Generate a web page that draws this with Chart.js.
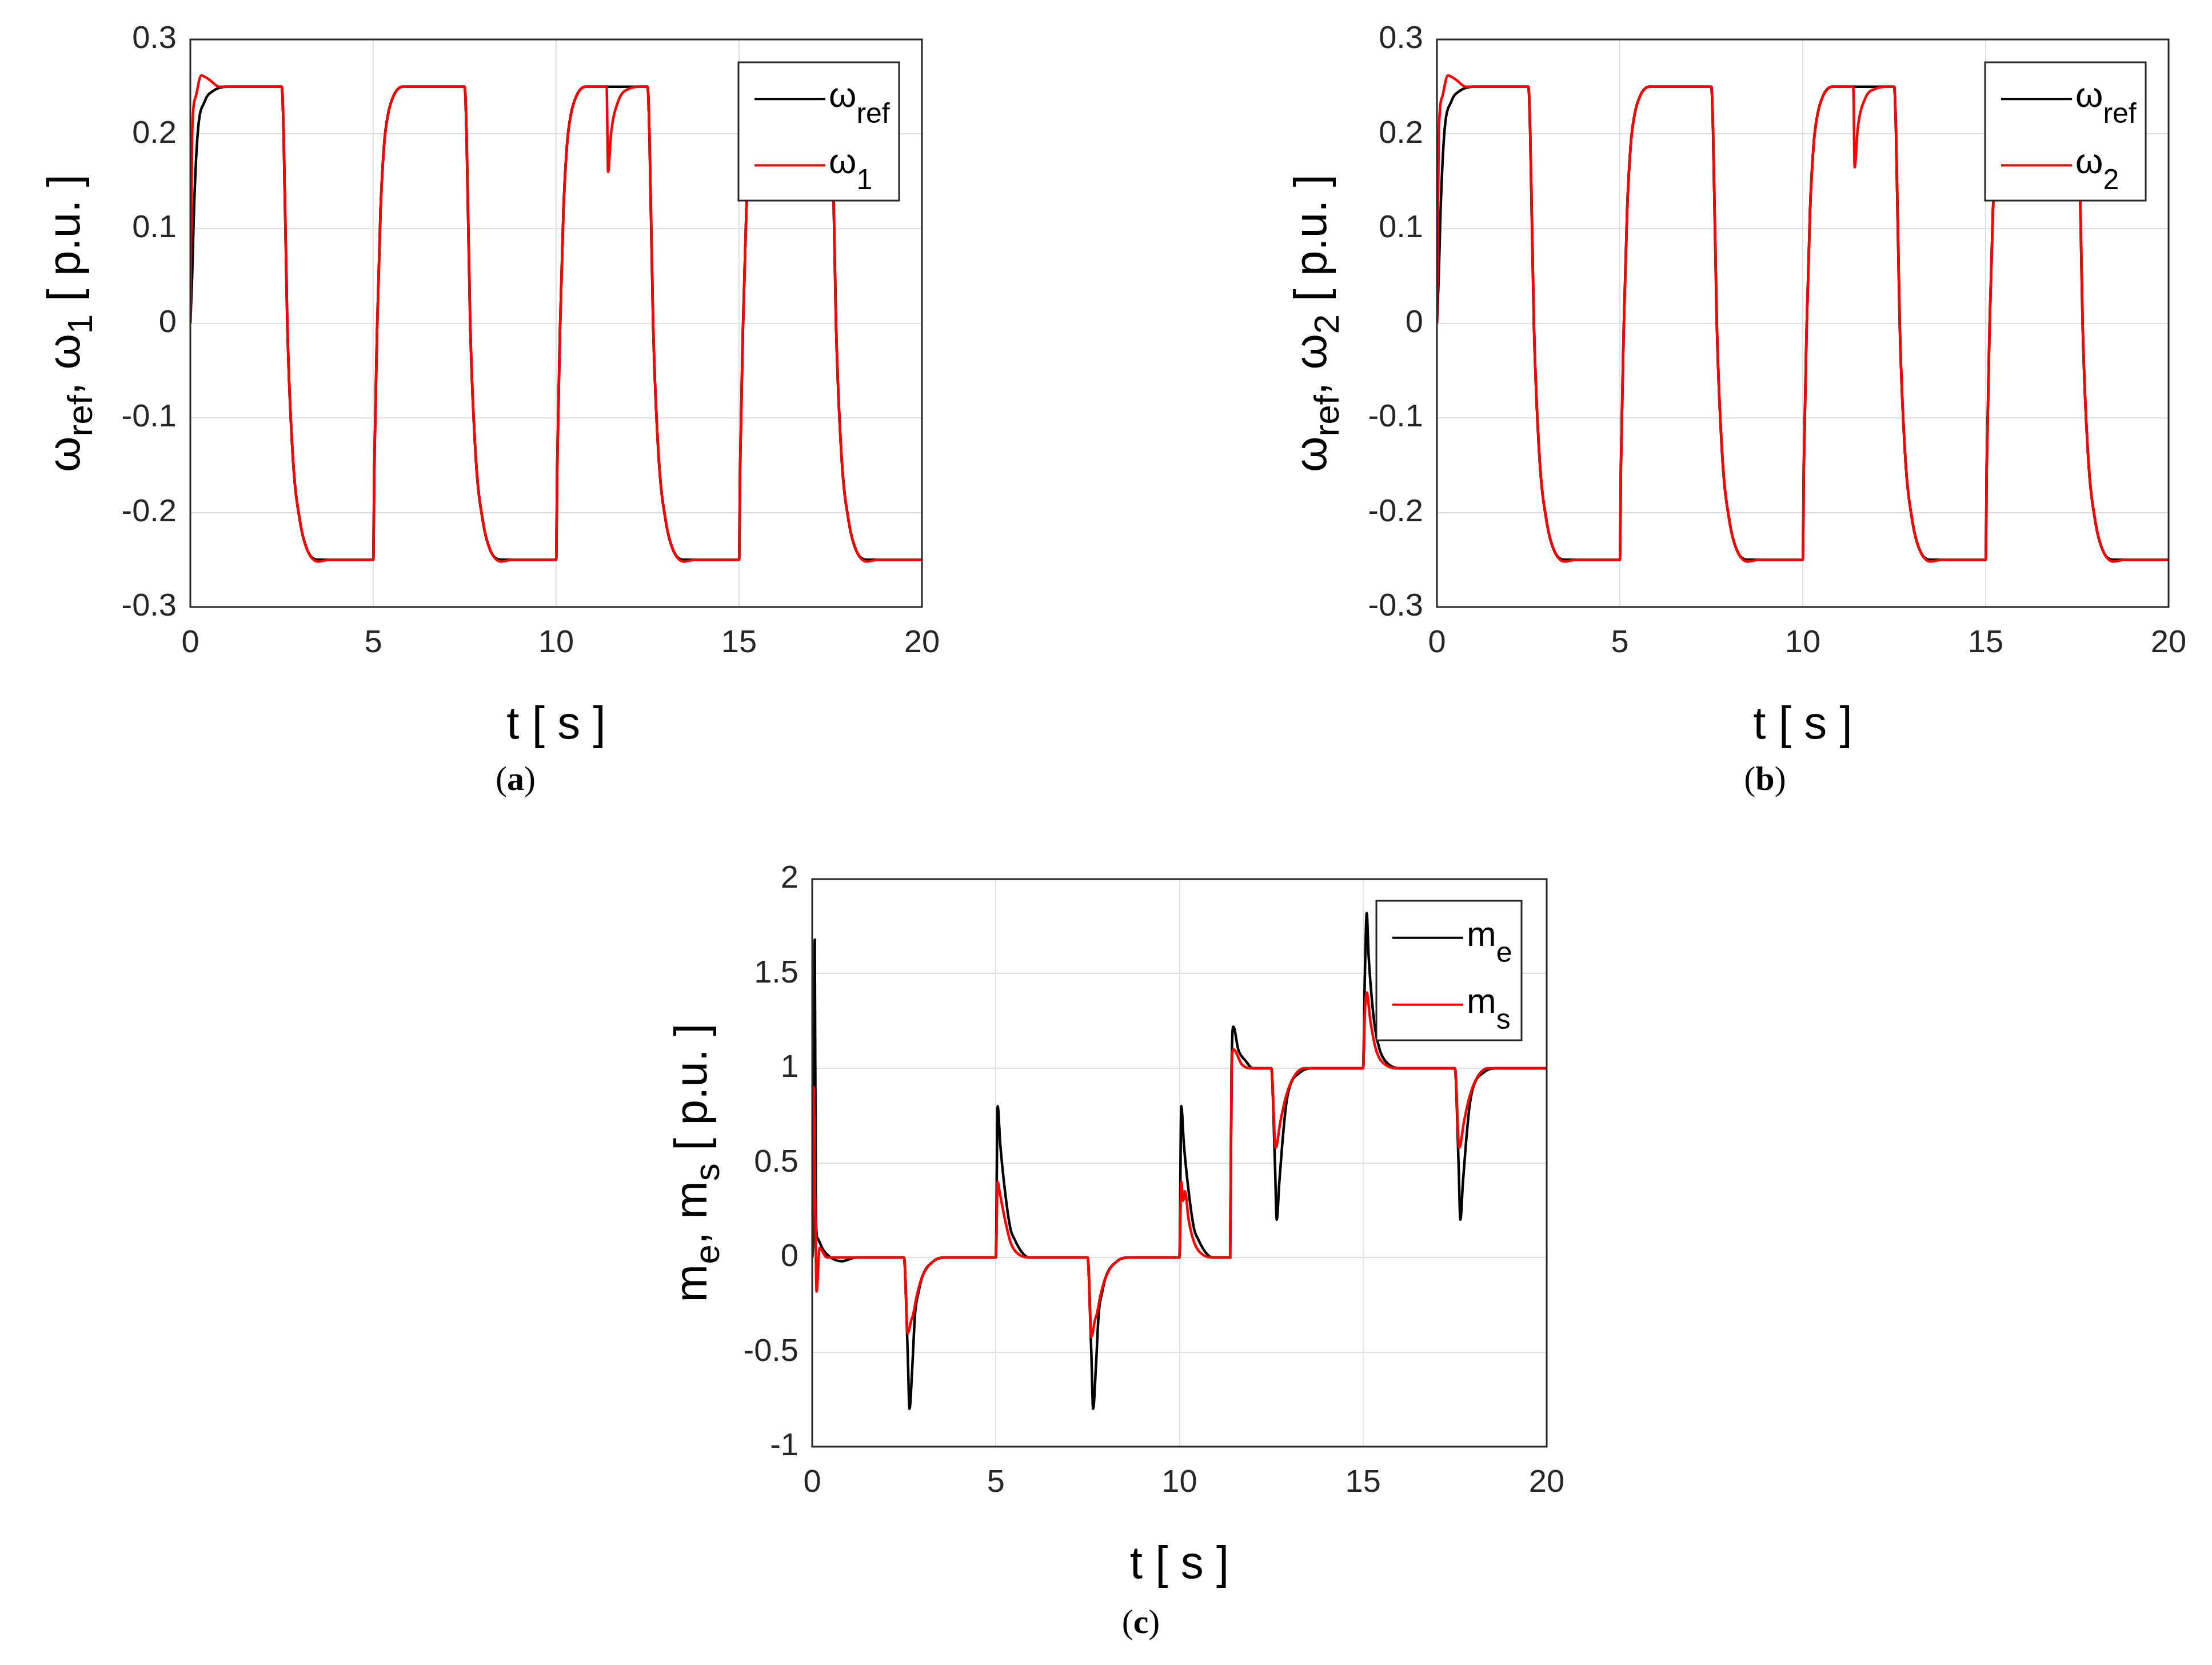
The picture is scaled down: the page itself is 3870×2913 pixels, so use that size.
<!DOCTYPE html>
<html>
<head>
<meta charset="utf-8">
<script src="https://cdn.jsdelivr.net/npm/chart.js@4.4.1/dist/chart.umd.min.js"></script>
<style>
  body { margin: 0; background: #fff; width: 3870px; height: 2913px; position: relative; overflow: hidden; }
  .box { position: absolute; width: 1700px; height: 1322px; }
  .cap { position: absolute; font-family: "Liberation Serif", serif; font-size: 60px; color: #000; transform: translateX(-50%); }
</style>
</head>
<body>
<div class="box" style="left:0px;top:0px"><canvas id="chartA"></canvas></div>
<div class="box" style="left:2181px;top:0px"><canvas id="chartB"></canvas></div>
<div class="box" style="left:1088px;top:1469px"><canvas id="chartC"></canvas></div>
<div class="cap" style="left:902px;top:1328px">(<b>a</b>)</div>
<div class="cap" style="left:3088px;top:1328px">(<b>b</b>)</div>
<div class="cap" style="left:1996px;top:2803px">(<b>c</b>)</div>
<script>
// ---- data ----
var tRef = [0,0.05,0.1,0.2,0.4,0.6,1.0,
  2.5,2.55,2.65,2.8,3.0,3.2,3.5,
  5.0,5.03,5.11,5.2,5.3,5.4,5.55,5.8,
  7.5,7.55,7.65,7.8,8.0,8.2,8.5,
  10.0,10.03,10.11,10.2,10.3,10.4,10.55,10.8,
  12.5,12.55,12.65,12.8,13.0,13.2,13.5,
  15.0,15.03,15.11,15.2,15.3,15.4,15.55,15.8,
  17.5,17.55,17.65,17.8,18.0,18.2,18.5,20];
var wRef = [0,0.05,0.12,0.2,0.235,0.245,0.25,
  0.25,0.2,0,-0.14,-0.21,-0.24,-0.25,
  -0.25,-0.15,0,0.12,0.19,0.22,0.24,0.25,
  0.25,0.2,0,-0.14,-0.21,-0.24,-0.25,
  -0.25,-0.15,0,0.12,0.19,0.22,0.24,0.25,
  0.25,0.2,0,-0.14,-0.21,-0.24,-0.25,
  -0.25,-0.15,0,0.12,0.19,0.22,0.24,0.25,
  0.25,0.2,0,-0.14,-0.21,-0.24,-0.25,-0.25];

var tW = [0,0.05,0.15,0.3,0.5,0.8,
  2.5,2.55,2.65,2.8,3.0,3.2,3.5,3.8,
  5.0,5.03,5.11,5.2,5.3,5.4,5.55,5.8,
  7.5,7.55,7.65,7.8,8.0,8.2,8.5,8.8,
  10.0,10.03,10.11,10.2,10.3,10.4,10.55,10.8,
  11.38,11.42,11.5,11.7,12.0,12.3,
  12.5,12.55,12.65,12.8,13.0,13.2,13.5,13.8,
  15.0,15.03,15.11,15.2,15.3,15.4,15.55,15.8,
  17.5,17.55,17.65,17.8,18.0,18.2,18.5,18.8,20];
var w1 = [0,0.2,0.24,0.262,0.258,0.25,
  0.25,0.2,0,-0.14,-0.21,-0.24,-0.252,-0.25,
  -0.25,-0.15,0,0.12,0.19,0.22,0.24,0.25,
  0.25,0.2,0,-0.14,-0.21,-0.24,-0.252,-0.25,
  -0.25,-0.15,0,0.12,0.19,0.22,0.24,0.25,
  0.25,0.16,0.2,0.235,0.248,0.25,
  0.25,0.2,0,-0.14,-0.21,-0.24,-0.252,-0.25,
  -0.25,-0.15,0,0.12,0.19,0.22,0.24,0.25,
  0.25,0.2,0,-0.14,-0.21,-0.24,-0.252,-0.25,-0.25];
var w2 = [0,0.2,0.24,0.262,0.258,0.25,
  0.25,0.2,0,-0.14,-0.21,-0.24,-0.252,-0.25,
  -0.25,-0.15,0,0.12,0.19,0.22,0.24,0.25,
  0.25,0.2,0,-0.14,-0.21,-0.24,-0.252,-0.25,
  -0.25,-0.15,0,0.12,0.19,0.22,0.24,0.25,
  0.25,0.165,0.205,0.237,0.248,0.25,
  0.25,0.2,0,-0.14,-0.21,-0.24,-0.252,-0.25,
  -0.25,-0.15,0,0.12,0.19,0.22,0.24,0.25,
  0.25,0.2,0,-0.14,-0.21,-0.24,-0.252,-0.25,-0.25];

var tMe = [0,0.04,0.07,0.1,0.15,0.3,0.5,0.8,1.2,
  2.5,2.6,2.65,2.72,2.8,2.9,3.0,3.3,3.6,
  5.0,5.05,5.12,5.25,5.4,5.5,5.7,5.9,
  7.5,7.6,7.65,7.72,7.8,7.9,8.0,8.3,8.6,
  10.0,10.05,10.12,10.25,10.4,10.5,10.7,10.9,
  11.38,11.42,11.47,11.6,11.8,12.0,12.4,
  12.5,12.6,12.65,12.72,12.8,12.9,13.0,13.3,13.6,
  15.0,15.05,15.1,15.15,15.3,15.45,15.6,16.0,
  17.5,17.6,17.65,17.72,17.8,17.9,18.0,18.3,18.6,20];
var me = [0,0.2,1.68,0.2,0.1,0.04,0,-0.02,0,
  0,-0.5,-0.8,-0.6,-0.3,-0.18,-0.1,-0.02,0,
  0,0.8,0.6,0.35,0.15,0.1,0.03,0,
  0,-0.5,-0.8,-0.6,-0.3,-0.18,-0.1,-0.02,0,
  0,0.8,0.6,0.35,0.15,0.1,0.03,0,
  0,1.0,1.22,1.1,1.04,1.0,1.0,
  1.0,0.5,0.2,0.4,0.6,0.8,0.9,0.98,1.0,
  1.0,1.5,1.82,1.6,1.25,1.1,1.04,1.0,
  1.0,0.5,0.2,0.4,0.6,0.8,0.9,0.98,1.0,1.0];
var tMs = [0,0.04,0.08,0.12,0.2,0.4,
  2.5,2.6,2.7,2.75,2.85,3.0,3.3,3.6,
  5.0,5.05,5.1,5.25,5.4,5.6,5.9,
  7.5,7.6,7.7,7.75,7.85,8.0,8.3,8.6,
  10.0,10.05,10.1,10.15,10.25,10.4,10.6,10.9,
  11.38,11.42,11.47,11.7,12.0,12.4,
  12.5,12.62,12.75,12.9,13.1,13.4,
  15.0,15.05,15.1,15.2,15.35,15.6,16.0,
  17.5,17.62,17.75,17.9,18.1,18.4,20];
var ms = [0,0.9,0.3,-0.18,0.05,0,
  0,-0.4,-0.33,-0.3,-0.2,-0.1,-0.02,0,
  0,0.4,0.35,0.2,0.08,0.02,0,
  0,-0.42,-0.33,-0.3,-0.2,-0.1,-0.02,0,
  0,0.4,0.3,0.35,0.2,0.08,0.02,0,
  0,1.0,1.1,1.02,1.0,1.0,
  1.0,0.58,0.72,0.85,0.95,1.0,
  1.0,1.3,1.4,1.25,1.1,1.02,1.0,
  1.0,0.58,0.72,0.85,0.95,1.0,1.0];

var xTicks = [0, 5, 10, 15, 20];
var yTicksW = [-0.3, -0.2, -0.1, 0, 0.1, 0.2, 0.3];
var yTicksM = [-1, -0.5, 0, 0.5, 1, 1.5, 2];

function pts(t, v) {
  return t.map(function (x, i) { return { x: x, y: v[i] }; });
}

// text with subscripts: parts = [[text, isSub], ...]
function richWidth(ctx, parts, big, small) {
  var w = 0;
  parts.forEach(function (p) {
    ctx.font = (p[1] ? small : big) + "px Arial, 'Liberation Sans'";
    w += ctx.measureText(p[0]).width;
  });
  return w;
}
function drawRich(ctx, parts, x, y, big, small, sub) {
  parts.forEach(function (p) {
    ctx.font = (p[1] ? small : big) + "px Arial, 'Liberation Sans'";
    ctx.fillText(p[0], x, y + (p[1] ? sub : 0));
    x += ctx.measureText(p[0]).width;
  });
}

var matlabDeco = {
  id: 'matlabDeco',
  afterDraw: function (chart) {
    var o = chart.options.plugins.matlabDeco;
    var ctx = chart.ctx, a = chart.chartArea;
    ctx.save();
    ctx.strokeStyle = '#262626';
    ctx.lineWidth = 3;
    ctx.strokeRect(a.left, a.top, a.right - a.left, a.bottom - a.top);
    // y title, rotated
    ctx.fillStyle = '#000';
    ctx.textBaseline = 'alphabetic';
    ctx.translate(o.yTitleX, (a.top + a.bottom) / 2);
    ctx.rotate(-Math.PI / 2);
    var w = richWidth(ctx, o.yTitle, 80, 62);
    drawRich(ctx, o.yTitle, -w / 2, 28, 80, 62, 22);
    ctx.restore();
    // legend
    ctx.save();
    var L = o.legend;
    var bx = a.right - L.right - L.w, by = a.top + L.top;
    ctx.fillStyle = '#fff';
    ctx.fillRect(bx, by, L.w, L.h);
    ctx.strokeStyle = '#262626';
    ctx.lineWidth = 3;
    ctx.strokeRect(bx, by, L.w, L.h);
    L.items.forEach(function (it, i) {
      var yy = by + L.h * (i === 0 ? 0.265 : 0.745);
      ctx.strokeStyle = it.color;
      ctx.lineWidth = 4;
      ctx.beginPath();
      ctx.moveTo(bx + 28, yy);
      ctx.lineTo(bx + 152, yy);
      ctx.stroke();
      ctx.fillStyle = '#000';
      drawRich(ctx, it.label, bx + 158, yy + 14, 62, 50, 28);
    });
    ctx.restore();
  }
};

function makeChart(id, sets, yMin, yMax, yStep, yTicks, deco) {
  return new Chart(document.getElementById(id), {
    type: 'line',
    data: { datasets: sets },
    plugins: [matlabDeco],
    options: {
      responsive: true,
      maintainAspectRatio: false,
      animation: false,
      layout: { padding: { left: 0, top: 69, right: deco.padRight, bottom: 0 } },
      elements: { point: { radius: 0 }, line: { borderWidth: 4.5, cubicInterpolationMode: 'monotone' } },
      plugins: { legend: { display: false }, tooltip: { enabled: false }, matlabDeco: deco },
      scales: {
        x: {
          type: 'linear', min: 0, max: 20,
          afterBuildTicks: function (s) { s.ticks = xTicks.map(function (v) { return { value: v }; }); },
          afterFit: function (s) { s.height = 260; },
          grid: { color: '#dedede', lineWidth: 2, drawTicks: false },
          border: { display: false },
          ticks: { color: '#262626', font: { size: 56, family: 'Arial, Liberation Sans' }, padding: 30, maxRotation: 0 },
          title: { display: true, text: 't [ s ]', color: '#000', font: { size: 80, family: 'Arial, Liberation Sans' }, padding: { top: 10 } }
        },
        y: {
          min: yMin, max: yMax,
          afterBuildTicks: function (s) { s.ticks = yTicks.map(function (v) { return { value: v }; }); },
          afterFit: function (s) { s.width = 333; },
          grid: { color: '#dedede', lineWidth: 2, drawTicks: false },
          border: { display: false },
          ticks: {
            color: '#262626', font: { size: 56, family: 'Arial, Liberation Sans' }, padding: 24,
            callback: function (v) { return String(Math.round(v * 10) / 10); }
          }
        }
      }
    }
  });
}

makeChart('chartA', [
  { data: pts(tW, w1), borderColor: '#ff0000', order: 0 },
  { data: pts(tRef, wRef), borderColor: '#000000', order: 1 }
], -0.3, 0.3, 0.1, yTicksW, {
  padRight: 87, yTitleX: 111,
  yTitle: [['\u03c9', false], ['ref', true], [', \u03c9', false], ['1', true], [' [ p.u. ]', false]],
  legend: { right: 40, top: 40, w: 281, h: 242, items: [
    { color: '#000', label: [['\u03c9', false], ['ref', true]] },
    { color: '#ff0000', label: [['\u03c9', false], ['1', true]] }] }
});

makeChart('chartB', [
  { data: pts(tW, w2), borderColor: '#ff0000', order: 0 },
  { data: pts(tRef, wRef), borderColor: '#000000', order: 1 }
], -0.3, 0.3, 0.1, yTicksW, {
  padRight: 87, yTitleX: 111,
  yTitle: [['\u03c9', false], ['ref', true], [', \u03c9', false], ['2', true], [' [ p.u. ]', false]],
  legend: { right: 40, top: 40, w: 281, h: 242, items: [
    { color: '#000', label: [['\u03c9', false], ['ref', true]] },
    { color: '#ff0000', label: [['\u03c9', false], ['2', true]] }] }
});

makeChart('chartC', [
  { data: pts(tMs, ms), borderColor: '#ff0000', order: 0 },
  { data: pts(tMe, me), borderColor: '#000000', order: 1 }
], -1, 2, 0.5, yTicksM, {
  padRight: 82, yTitleX: 120,
  yTitle: [['m', false], ['e', true], [', m', false], ['s', true], [' [ p.u. ]', false]],
  legend: { right: 44, top: 38, w: 254, h: 244, items: [
    { color: '#000', label: [['m', false], ['e', true]] },
    { color: '#ff0000', label: [['m', false], ['s', true]] }] }
});
</script>
</body>
</html>
